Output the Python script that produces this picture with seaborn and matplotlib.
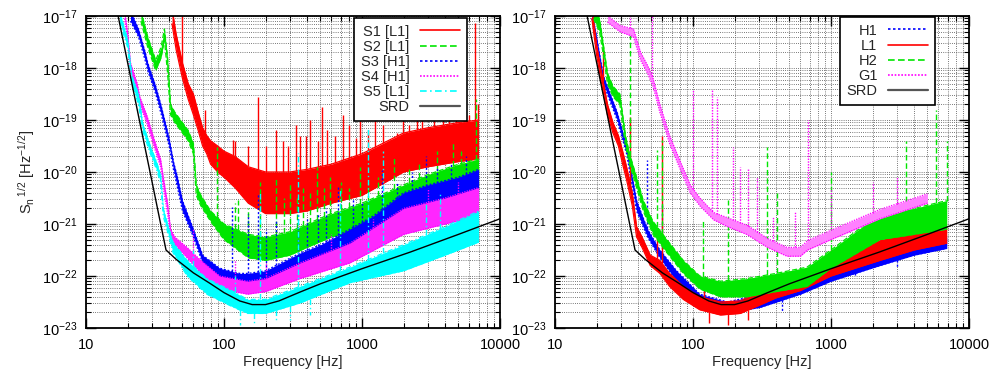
import numpy as np
import matplotlib
matplotlib.use("Agg")
import matplotlib.pyplot as plt
import seaborn as sns
from matplotlib.ticker import LogLocator, NullFormatter, FuncFormatter, LogFormatterSciNotation
from matplotlib.lines import Line2D

# ---------------- data (frequency in Hz, amplitude as log10 of Sn^1/2) ----------------
srd_f = [17, 20, 25, 30, 35, 38, 45, 60, 80, 100, 130, 160, 200, 250, 355, 500, 1000, 2240, 5000, 10000]
srd_log = [-16.97, -17.89, -19.15, -20.17, -21.04, -21.50, -21.68, -21.94, -22.15, -22.32, -22.48,
           -22.55, -22.55, -22.48, -22.31, -22.15, -21.86, -21.54, -21.20, -20.90]

# left panel: science runs S1..S5
s1_f = [42, 45, 50, 55, 60, 65, 70, 75, 80, 90, 100, 120, 150, 200, 300, 400, 600, 1000, 2000, 3000, 5000, 7000]
s1_lo = [-17.15, -17.65, -18.2, -18.6, -18.9, -19.2, -19.5, -19.65, -19.85, -20.0, -20.1, -20.3, -20.6, -20.8,
         -20.8, -20.75, -20.6, -20.45, -20.0, -19.9, -19.8, -19.75]
s1_hi = [-16.85, -17.35, -17.9, -18.3, -18.5, -18.85, -19.15, -19.3, -19.4, -19.5, -19.6, -19.7, -19.9, -20.0,
         -20.0, -19.95, -19.85, -19.65, -19.25, -19.15, -19.05, -19.0]
s1_spk_f = [50, 73, 116, 120, 149, 176, 200, 240, 268, 290, 330, 355, 390, 420, 480, 510, 560, 640, 730, 800,
            900, 970, 1100, 1240, 1410, 1600, 1780, 1980, 2200, 2500, 2700, 3300, 3850, 4300, 4800, 5500, 6000,
            6600, 6900]
s1_spk_top = [-17.0, -18.8, -19.38, -19.4, -19.5, -18.55, -19.5, -19.2, -19.4, -19.5, -19.1, -19.3, -19.3,
              -19.0, -19.4, -18.75, -19.2, -19.3, -18.9, -19.1, -19.35, -19.0, -19.2, -18.9, -19.1, -19.4,
              -19.25, -18.8, -19.1, -18.95, -19.0, -18.9, -18.27, -18.85, -18.7, -18.6, -18.9, -17.13, -18.7]

s2_f = [25, 28, 32, 35, 37, 39, 41, 44, 50, 55, 60, 63, 68, 80, 100, 150, 200, 300, 400, 600, 1000, 2000, 3000, 5000, 7000]
s2_lo = [-17.1, -17.6, -18.05, -17.8, -17.45, -18.1, -18.9, -19.05, -19.25, -19.4, -19.65, -20.45, -20.65, -20.95,
         -21.3, -21.65, -21.7, -21.6, -21.45, -21.25, -21.1, -20.7, -20.5, -20.35, -20.25]
s2_hi = [-16.9, -17.4, -17.85, -17.6, -17.25, -17.8, -18.7, -18.85, -19.05, -19.2, -19.45, -20.25, -20.45, -20.75,
         -21.0, -21.2, -21.25, -21.15, -21.0, -20.8, -20.6, -20.25, -20.05, -19.85, -19.75]
s2_spk_f = [89, 120, 126, 150, 183, 240, 270, 300, 340, 375, 420, 470, 530, 590, 700, 800, 970, 1100, 1300,
            1700, 2200, 2600, 3500, 4600, 5200, 6700]
s2_spk_top = [-19.52, -20.6, -20.54, -20.7, -20.2, -20.1, -20.5, -20.2, -20.5, -20.3, -20.4, -19.9, -20.3,
              -20.1, -20.2, -20.3, -19.9, -20.2, -20.1, -19.7, -19.9, -19.8, -19.6, -19.45, -19.6, -18.6]

s3_f = [21, 24, 27, 28, 32, 35, 40, 43, 46, 50, 60, 70, 93, 130, 150, 200, 355, 500, 815, 1200, 2000, 3000, 5000, 7000]
s3_lo = [-17.1, -17.4, -17.88, -18.05, -18.5, -18.88, -19.5, -19.95, -20.3, -20.75, -21.25, -21.75, -22.1,
         -22.25, -22.27, -22.2, -21.95, -21.8, -21.6, -21.35, -20.95, -20.8, -20.65, -20.55]
s3_hi = [-16.9, -17.25, -17.72, -17.9, -18.35, -18.72, -19.35, -19.8, -20.1, -20.55, -21.1, -21.6, -21.85,
         -21.95, -21.95, -21.9, -21.56, -21.4, -21.1, -20.85, -20.4, -20.25, -20.1, -19.95]
s3_spk_f = [114, 149, 176, 200, 240, 345, 400, 480, 550, 670, 860, 1000, 1400, 1800, 2300, 2900, 3500, 4400, 5700]
s3_spk_top = [-20.67, -20.8, -20.4, -21.1, -20.9, -20.73, -20.9, -20.8, -20.7, -20.29, -20.5, -20.6, -19.96,
              -20.2, -20.0, -19.7, -19.9, -19.83, -19.7]

s4_f = [19, 20, 21, 23.5, 24.5, 27.5, 31, 34.7, 36.3, 39, 41, 44, 54, 68, 93, 148, 200, 355, 815, 2000, 4000, 7000]
s4_lo = [-17.05, -17.45, -18.05, -18.45, -18.7, -19.05, -19.5, -19.9, -20.3, -20.8, -21.25, -21.4, -21.65,
         -21.95, -22.25, -22.35, -22.3, -22.05, -21.75, -21.2, -21.0, -20.85]
s4_hi = [-16.9, -17.3, -17.9, -18.3, -18.55, -18.9, -19.35, -19.75, -20.1, -20.6, -21.1, -21.25, -21.45,
         -21.7, -22.0, -22.1, -22.05, -21.75, -21.37, -20.7, -20.5, -20.3]
s4_spk_f = [60, 120, 200, 600, 1200, 3000, 5000]
s4_spk_top = [-21.1, -21.7, -21.75, -21.2, -20.9, -20.3, -20.2]

s5_f = [17.5, 20, 21.5, 24, 25.7, 28.8, 32.4, 34.7, 36.3, 39, 42.7, 54, 75, 117, 148, 200, 355, 815, 2000, 4000, 7000]
s5_lo = [-17.1, -17.6, -18.3, -18.7, -19.2, -19.6, -19.95, -20.2, -20.85, -21.15, -21.55, -22.0, -22.35,
         -22.6, -22.72, -22.72, -22.52, -22.13, -21.9, -21.6, -21.35]
s5_hi = [-16.9, -17.45, -18.15, -18.5, -19.05, -19.45, -19.8, -20.05, -20.7, -21.0, -21.35, -21.7, -22.05,
         -22.3, -22.45, -22.45, -22.2, -21.83, -21.4, -21.05, -20.75]
s5_spk_f = [60, 120, 183, 345, 690, 1100, 1420, 2900, 3700]
s5_spk_top = [-21.5, -22.0, -20.4, -19.63, -20.3, -19.13, -19.6, -20.6, -20.4]
s5_dip_f = [130, 165, 240, 300, 420]
s5_dip_bot = [-22.95, -22.9, -22.85, -22.85, -22.75]

# right panel: detectors H1, L1, H2, G1
h1_f = [18.5, 20, 22.4, 28.2, 33, 39, 46.8, 57.5, 76, 112, 178, 310, 600, 1000, 2260, 4000, 6900]
h1_lo = [-17.05, -17.55, -18.3, -19.0, -19.65, -20.75, -21.25, -21.65, -22.1, -22.55, -22.72, -22.6, -22.35,
         -22.1, -21.8, -21.6, -21.47]
h1_hi = [-16.9, -17.4, -18.15, -18.85, -19.5, -20.55, -21.1, -21.5, -21.9, -22.35, -22.5, -22.35, -22.05,
         -21.8, -21.6, -21.4, -21.25]
h1_spk_f = [46.4, 60, 120, 345]
h1_spk_top = [-19.77, -20.6, -22.1, -22.0]
h1_dip_f = [440, 1500, 3000]
h1_dip_bot = [-22.7, -22.0, -21.85]

l1_f = [18.5, 20, 21.4, 24, 26.3, 28.8, 30.9, 33, 36.3, 39, 42.7, 49, 57.5, 67.6, 85, 112, 158, 220, 310, 400,
        600, 1000, 2260, 4000, 6900]
l1_lo = [-17.05, -17.75, -18.2, -18.9, -19.25, -19.5, -19.85, -20.15, -20.65, -21.25, -21.45, -21.8, -21.95,
         -22.2, -22.45, -22.65, -22.75, -22.72, -22.55, -22.42, -22.28, -22.0, -21.7, -21.5, -21.37]
l1_hi = [-16.85, -17.55, -18.0, -18.7, -19.05, -19.3, -19.6, -19.9, -20.4, -21.05, -21.25, -21.6, -21.7, -21.95,
         -22.2, -22.4, -22.5, -22.48, -22.28, -22.15, -22.02, -21.72, -21.3, -21.15, -21.05]
l1_spk_f = [22.3, 35, 55, 59.5, 120, 345, 690, 1000]
l1_spk_top = [-17.6, -18.94, -21.17, -19.3, -22.1, -22.0, -21.85, -21.5]
l1_dip_f = [130, 180, 250]
l1_dip_bot = [-22.9, -22.95, -22.85]

h2_f = [19, 21, 22.4, 24, 26.3, 29.5, 32.4, 34.7, 39, 43.6, 51.3, 64.6, 85, 112, 158, 245, 400, 670, 1000,
        2260, 4000, 6900]
h2_lo = [-17.05, -17.3, -17.75, -18.3, -18.55, -18.7, -19.5, -19.85, -20.3, -20.75, -21.2, -21.55, -21.95, -22.25,
         -22.4, -22.4, -22.3, -22.2, -21.85, -21.3, -21.2, -21.1]
h2_hi = [-16.85, -17.05, -17.55, -18.1, -18.35, -18.5, -19.3, -19.65, -20.1, -20.55, -20.95, -21.3, -21.7, -22.0,
         -22.1, -22.05, -21.95, -21.83, -21.5, -20.8, -20.7, -20.55]
h2_spk_f = [35, 55, 60, 118, 180, 345, 407, 1000, 3500, 5800, 6900]
h2_spk_top = [-17.33, -19.58, -19.38, -20.92, -20.54, -19.52, -20.4, -20.0, -19.4, -18.8, -19.4]

g1_f = [24, 29.5, 37, 41.7, 46.8, 51.3, 57.5, 67.6, 79.4, 95.5, 112, 141, 178, 245, 347, 480, 600, 676, 1000,
        2260, 5000]
g1_lo = [-17.12, -17.3, -17.4, -17.85, -18.1, -18.35, -18.85, -19.45, -19.9, -20.4, -20.65, -20.92, -21.05,
         -21.2, -21.45, -21.62, -21.62, -21.5, -21.3, -20.9, -20.6]
g1_hi = [-17.0, -17.18, -17.25, -17.7, -17.95, -18.2, -18.7, -19.3, -19.75, -20.25, -20.5, -20.78, -20.88,
         -21.02, -21.28, -21.45, -21.45, -21.32, -21.12, -20.72, -20.42]
g1_spk_f = [35, 50.5, 100, 137, 149, 195, 220, 250, 290, 380, 550, 680, 1000, 2000, 3000]
g1_spk_top = [-17.0, -17.0, -18.42, -18.42, -18.55, -19.52, -19.9, -19.95, -20.1, -20.87, -20.75, -19.0,
              -20.3, -20.2, -20.1]

left_labels = ["S1 [L1]", "S2 [L1]", "S3 [H1]", "S4 [H1]", "S5 [L1]", "SRD"]
right_labels = ["H1", "L1", "H2", "G1", "SRD"]
x_ticks = [10, 100, 1000, 10000]
y_ticks = [1e-23, 1e-22, 1e-21, 1e-20, 1e-19, 1e-18, 1e-17]

# ---------------- styling ----------------
RED, GREEN, BLUE, MAG, CYAN = "#ff0000", "#00e600", "#0000ff", "#ff00ff", "#00ffff"
SOLID, DASH, DOT, FDOT, DASHDOT = "-", (0, (4, 2)), (0, (1.5, 1.5)), (0, (1, 1)), (0, (4, 2, 1, 2))

sns.set_style("ticks")
plt.rcParams["font.family"] = ["Liberation Sans", "DejaVu Sans"]
plt.rcParams["mathtext.default"] = "regular"
plt.rcParams["axes.unicode_minus"] = False
FS = 10.5

fig = plt.figure(figsize=(9.92, 3.76), dpi=100)
axL = fig.add_axes([0.0867, 0.1277, 0.4173, 0.8298])
axR = fig.add_axes([0.5595, 0.1277, 0.4173, 0.8298])


def draw_band(ax, f, lo, hi, color, fill, ls, z):
    f = np.asarray(f, float)
    lo_v = 10.0 ** np.asarray(lo, float)
    hi_v = 10.0 ** np.asarray(hi, float)
    ax.fill_between(f, lo_v, hi_v, color=fill, linewidth=0, zorder=z)
    sns.lineplot(x=f, y=hi_v, ax=ax, color=color, linestyle=ls, linewidth=0.9,
                 estimator=None, sort=False, zorder=z)
    sns.lineplot(x=f, y=lo_v, ax=ax, color=color, linestyle=ls, linewidth=0.9,
                 estimator=None, sort=False, zorder=z)


def draw_spikes(ax, bf, blo, bhi, sf, stop, color, ls, z, down=False):
    lf = np.log10(np.asarray(bf, float))
    sfa = np.asarray(sf, float)
    ref = blo if down else bhi
    base = 10.0 ** np.interp(np.log10(sfa), lf, np.asarray(ref, float))
    ax.vlines(sfa, base, 10.0 ** np.asarray(stop, float), colors=color, linestyles=[ls],
              linewidth=1.0, zorder=z)


for ax in (axL, axR):
    ax.set_xscale("log")
    ax.set_yscale("log")

left_series = [
    (s1_f, s1_lo, s1_hi, s1_spk_f, s1_spk_top, None, None, RED, RED, SOLID),
    (s2_f, s2_lo, s2_hi, s2_spk_f, s2_spk_top, None, None, GREEN, GREEN, DASH),
    (s3_f, s3_lo, s3_hi, s3_spk_f, s3_spk_top, None, None, BLUE, BLUE, DOT),
    (s4_f, s4_lo, s4_hi, s4_spk_f, s4_spk_top, None, None, MAG, "#ff26ff", FDOT),
    (s5_f, s5_lo, s5_hi, s5_spk_f, s5_spk_top, s5_dip_f, s5_dip_bot, CYAN, CYAN, DASHDOT),
]
right_series = [
    (h1_f, h1_lo, h1_hi, h1_spk_f, h1_spk_top, h1_dip_f, h1_dip_bot, BLUE, BLUE, DOT),
    (l1_f, l1_lo, l1_hi, l1_spk_f, l1_spk_top, l1_dip_f, l1_dip_bot, RED, RED, SOLID),
    (h2_f, h2_lo, h2_hi, h2_spk_f, h2_spk_top, None, None, GREEN, GREEN, DASH),
    (g1_f, g1_lo, g1_hi, g1_spk_f, g1_spk_top, None, None, MAG, "#ff80ff", FDOT),
]

for ax, series, labels, anchor in ((axL, left_series, left_labels, (0.9203, 0.9936)),
                                   (axR, right_series, right_labels, (0.9179, 0.9968))):
    handles = []
    for i, (f, lo, hi, sf, st, df, db, c, fc, ls) in enumerate(series):
        z = 2 + i
        draw_band(ax, f, lo, hi, c, fc, ls, z)
        draw_spikes(ax, f, lo, hi, sf, st, c, ls, z)
        if df is not None:
            draw_spikes(ax, f, lo, hi, df, db, c, ls, z, down=True)
        handles.append(Line2D([], [], color=c, linestyle=ls, linewidth=1.2))
    sns.lineplot(x=np.asarray(srd_f, float), y=10.0 ** np.asarray(srd_log), ax=ax, color="black",
                 linewidth=1.0, estimator=None, sort=False, zorder=10)
    handles.append(Line2D([], [], color="#555555", linewidth=1.6))

    ax.set_xticks(x_ticks)
    ax.set_yticks(y_ticks)
    ax.xaxis.set_minor_locator(LogLocator(base=10, subs=np.arange(2, 10), numticks=100))
    ax.yaxis.set_minor_locator(LogLocator(base=10, subs=np.arange(2, 10), numticks=100))
    ax.xaxis.set_minor_formatter(NullFormatter())
    ax.yaxis.set_minor_formatter(NullFormatter())
    ax.xaxis.set_major_formatter(FuncFormatter(lambda v, p: f"{v:g}"))
    ax.yaxis.set_major_formatter(LogFormatterSciNotation())
    ax.set_xlim(10, 10000)
    ax.set_ylim(1e-23, 1e-17)
    ax.set_axisbelow(True)
    ax.grid(True, which="both", color="0.3", linestyle=(0, (1, 1.6)), linewidth=0.6)
    ax.tick_params(which="both", direction="in", top=True, right=True, colors="black",
                   labelsize=FS)
    ax.tick_params(which="major", length=7, width=1.0)
    ax.tick_params(which="minor", length=3.5, width=0.8)
    ax.tick_params(axis="x", which="major", pad=7)
    ax.tick_params(axis="y", which="major", pad=6)
    for sp in ax.spines.values():
        sp.set_linewidth(1.3)
        sp.set_color("black")
        sp.set_zorder(20)
    ax.set_xlabel("Frequency [Hz]", fontsize=FS)
    ax.xaxis.set_label_coords(0.5, -0.088)
    ax.set_ylabel("")

    leg = ax.legend(handles, labels, loc="upper right", bbox_to_anchor=anchor, borderaxespad=0,
                    markerfirst=False, fontsize=FS, handlelength=2.8, handletextpad=0.7,
                    labelspacing=0.08, borderpad=0.45, fancybox=False, framealpha=1.0,
                    edgecolor="black")
    leg.get_frame().set_linewidth(1.2)
    leg.set_zorder(30)
    for col in leg._legend_handle_box.get_children():
        col.align = "right"

axL.set_ylabel(r"S$_n$$^{\,1/2}$ [Hz$^{-1/2}$]", fontsize=FS)
axL.yaxis.set_label_coords(-0.118, 0.5)

fig.savefig("out.png", dpi=100)
